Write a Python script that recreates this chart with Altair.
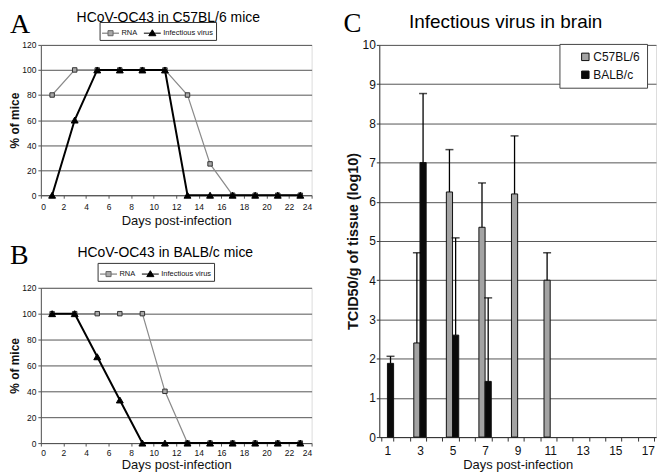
import altair as alt
import pandas as pd

# ---------------- data ----------------
days = [1, 3, 5, 7, 9, 11, 13, 15, 17, 19, 21, 23]
a_rna = [80, 100, 100, 100, 100, 100, 80, 25, 0, 0, 0, 0]
a_inf = [0, 60, 100, 100, 100, 100, 0, 0, 0, 0, 0, 0]
b_rna = [100, 100, 100, 100, 100, 40, 0, 0, 0, 0, 0, 0]
b_inf = [100, 100, 66.7, 33.3, 0, 0, 0, 0, 0, 0, 0, 0]

c_days = ["1", "3", "5", "7", "9", "11"]
c57_mean = [0, 2.4, 6.25, 5.35, 6.2, 4.0]
c57_upper = [0, 4.7, 7.33, 6.48, 7.68, 4.7]
balb_mean = [1.88, 7.0, 2.6, 1.42, 0, 0]
balb_upper = [2.06, 8.76, 5.08, 3.55, 0, 0]
c_domain = [str(d) for d in range(1, 18)]
strains = ["C57BL/6", "BALB/c"]
series = ["RNA", "Infectious virus"]

FONT = "Liberation Sans"
SERIF = "Liberation Serif"

# legend glyphs: a short line with the marker on it
SYM_RNA = "M-1,0H-0.3M0.3,0H1M-0.3,-0.3H0.3V0.3H-0.3Z"
SYM_INF = "M-1,0H1M0,-0.4L0.42,0.3H-0.42Z"


def line_panel(letter, title, rna, inf, width, height, letter_x, letter_y,
               legend_x, legend_y, title_offset, title_dx, xlab_pad, xtitle_pad):
    df_rna = pd.DataFrame({"day": days, "pct": rna, "series": "RNA"})
    df_inf = pd.DataFrame({"day": days, "pct": inf, "series": "Infectious virus"})
    df_all = pd.concat([df_rna, df_inf])
    x = alt.X("day:Q", scale=alt.Scale(domain=[0, 24], nice=False, zero=False),
              axis=alt.Axis(values=list(range(0, 25, 2)), title="Days post-infection",
                            grid=False, labelFontSize=8.5, titleFontSize=13,
                            titleFontWeight="normal", tickSize=3, labelPadding=xlab_pad,
                            titlePadding=xtitle_pad, domainColor="#555", tickColor="#555",
                            labelFont=FONT, titleFont=FONT, labelColor="#111",
                            titleColor="#111"))
    y = alt.Y("pct:Q", scale=alt.Scale(domain=[0, 120], nice=False),
              axis=alt.Axis(values=list(range(0, 121, 20)), title="% of mice",
                            grid=True, gridColor="#555", gridWidth=1,
                            labelFontSize=8.5, titleFontSize=12, titleFontWeight="bold",
                            tickSize=3, labelPadding=2, titlePadding=0,
                            domainColor="#555", tickColor="#555", labelFont=FONT,
                            titleFont=FONT, labelColor="#111", titleColor="#111"))
    leg = alt.Legend(orient="none", legendX=legend_x, legendY=legend_y,
                     direction="horizontal", title=None, strokeColor="#333",
                     fillColor="white", padding=2, labelFontSize=7.5, labelFont=FONT,
                     labelColor="#111", symbolSize=289, symbolOpacity=1,
                     symbolStrokeWidth=1, columnPadding=4, labelOffset=2)

    l_rna = alt.Chart(df_rna).mark_line(color="#8a8a8a", strokeWidth=1.2).encode(x=x, y=y)
    p_rna = alt.Chart(df_rna).mark_point(shape="square", filled=True, opacity=1,
                                         fill="#a8a8a8", stroke="#333", strokeWidth=1,
                                         size=20).encode(x=x, y=y)
    l_inf = alt.Chart(df_inf).mark_line(color="#000", strokeWidth=2).encode(x=x, y=y)
    p_inf = alt.Chart(df_inf).mark_point(shape="triangle-up", filled=True, opacity=1,
                                         fill="#000", stroke="#000", strokeWidth=1,
                                         size=48).encode(x=x, y=y)
    p_leg = alt.Chart(df_all).mark_point(filled=True, opacity=0, size=289).encode(
        x=x, y=y,
        shape=alt.Shape("series:N", scale=alt.Scale(domain=series, range=[SYM_RNA, SYM_INF]),
                        legend=leg),
        fill=alt.Fill("series:N", scale=alt.Scale(domain=series, range=["#a8a8a8", "#000000"]),
                      legend=leg),
        stroke=alt.Stroke("series:N", scale=alt.Scale(domain=series, range=["#666666", "#000000"]),
                          legend=leg))
    lab = alt.Chart(pd.DataFrame({"t": [letter]})).mark_text(
        font=SERIF, fontSize=28, fontWeight="normal", align="left",
        baseline="alphabetic", color="#000").encode(
        x=alt.value(letter_x), y=alt.value(letter_y), text="t:N")
    return alt.layer(p_leg, l_rna, p_rna, l_inf, p_inf, lab).properties(
        width=width, height=height,
        title=alt.TitleParams(title, fontSize=14, font=FONT, fontWeight="normal",
                              anchor="middle", offset=title_offset, dx=title_dx,
                              color="#000"))


panel_a = line_panel("A", "HCoV-OC43 in C57BL/6 mice", a_rna, a_inf, 272, 151,
                     -31, -12, 59, -23, -14.4, -8, 4, 4)
panel_b = line_panel("B", "HCoV-OC43 in BALB/c mice", b_rna, b_inf, 272, 156,
                     -31, -24, 57, -25, -18.4, -11, 2, 2)

# ---------------- panel C ----------------
rows = []
for i, d in enumerate(c_days):
    if c57_mean[i] > 0:
        rows.append({"day": d, "strain": "C57BL/6", "mean": c57_mean[i], "upper": c57_upper[i]})
    if balb_mean[i] > 0:
        rows.append({"day": d, "strain": "BALB/c", "mean": balb_mean[i], "upper": balb_upper[i]})
df_c = pd.DataFrame(rows)

cx = alt.X("day:N", scale=alt.Scale(domain=c_domain, paddingInner=0.24, paddingOuter=0.12),
           axis=alt.Axis(title="Days post-infection", labelAngle=0,
                         labelExpr="toNumber(datum.value) % 2 == 1 ? datum.label : ''",
                         tickBand="extent", tickSize=4, labelFontSize=12,
                         titleFontSize=13, titleFontWeight="normal", labelPadding=4,
                         titlePadding=3, domainColor="#333", tickColor="#333",
                         labelFont=FONT, titleFont=FONT, labelColor="#111",
                         titleColor="#111"))
cxo = alt.XOffset("strain:N", scale=alt.Scale(domain=strains, paddingInner=0, paddingOuter=0))
c_yscale = alt.Scale(domain=[0, 10], nice=False)
c_yaxis = alt.Axis(values=list(range(0, 11)), title="TCID50/g of tissue (log10)",
                   grid=True, gridColor="#555", gridWidth=1, labelFontSize=12,
                   titleFontSize=14.5, titleFontWeight="bold", tickSize=3,
                   labelPadding=1, titlePadding=2, domainColor="#333",
                   tickColor="#333", labelFont=FONT, titleFont=FONT,
                   labelColor="#111", titleColor="#111")
cy = alt.Y("mean:Q", scale=c_yscale, axis=c_yaxis)

bars = alt.Chart(df_c).mark_bar(stroke="#111", strokeWidth=1).encode(
    x=cx, xOffset=cxo, y=cy,
    fill=alt.Fill("strain:N", scale=alt.Scale(domain=strains, range=["#a3a3a3", "#0a0a0a"]),
                  legend=alt.Legend(orient="none", legendX=181, legendY=-1, title=None,
                                    strokeColor="#444", fillColor="white", padding=7,
                                    labelFontSize=12, labelFont=FONT, labelColor="#111",
                                    symbolType="square", symbolSize=56,
                                    symbolStrokeColor="#111", symbolStrokeWidth=1,
                                    symbolOffset=13, rowPadding=6, labelOffset=2,
                                    labelLimit=200,
                                    labelExpr="datum.label + '\u00a0\u00a0\u00a0\u00a0'")))
err = alt.Chart(df_c).mark_rule(color="#000", strokeWidth=1.3).encode(
    x=cx, xOffset=cxo, y=cy, y2="upper:Q")
caps = alt.Chart(df_c).mark_tick(color="#000", thickness=1.5, size=8).encode(
    x=cx, xOffset=cxo, y=alt.Y("upper:Q", scale=c_yscale, axis=c_yaxis))
lab_c = alt.Chart(pd.DataFrame({"t": ["C"]})).mark_text(
    font=SERIF, fontSize=27, fontWeight="normal", align="left", baseline="alphabetic",
    color="#000").encode(x=alt.value(-36), y=alt.value(-13), text="t:N")

panel_c = alt.layer(bars, err, caps, lab_c).properties(
    width=278, height=394,
    title=alt.TitleParams("Infectious virus in brain", fontSize=19, font=FONT,
                          fontWeight="normal", anchor="middle", offset=-21.6, dx=-12,
                          color="#000"))

left = alt.vconcat(panel_a, panel_b, spacing=13).resolve_scale(
    shape="independent", fill="independent", stroke="independent")
chart = alt.hconcat(left, panel_c, spacing=30).resolve_scale(
    shape="independent", fill="independent", stroke="independent").configure_view(
    stroke="#888", strokeWidth=1).configure(padding=0, background="white")

chart.save("out.html", embed_options={"renderer": "svg", "actions": False})
